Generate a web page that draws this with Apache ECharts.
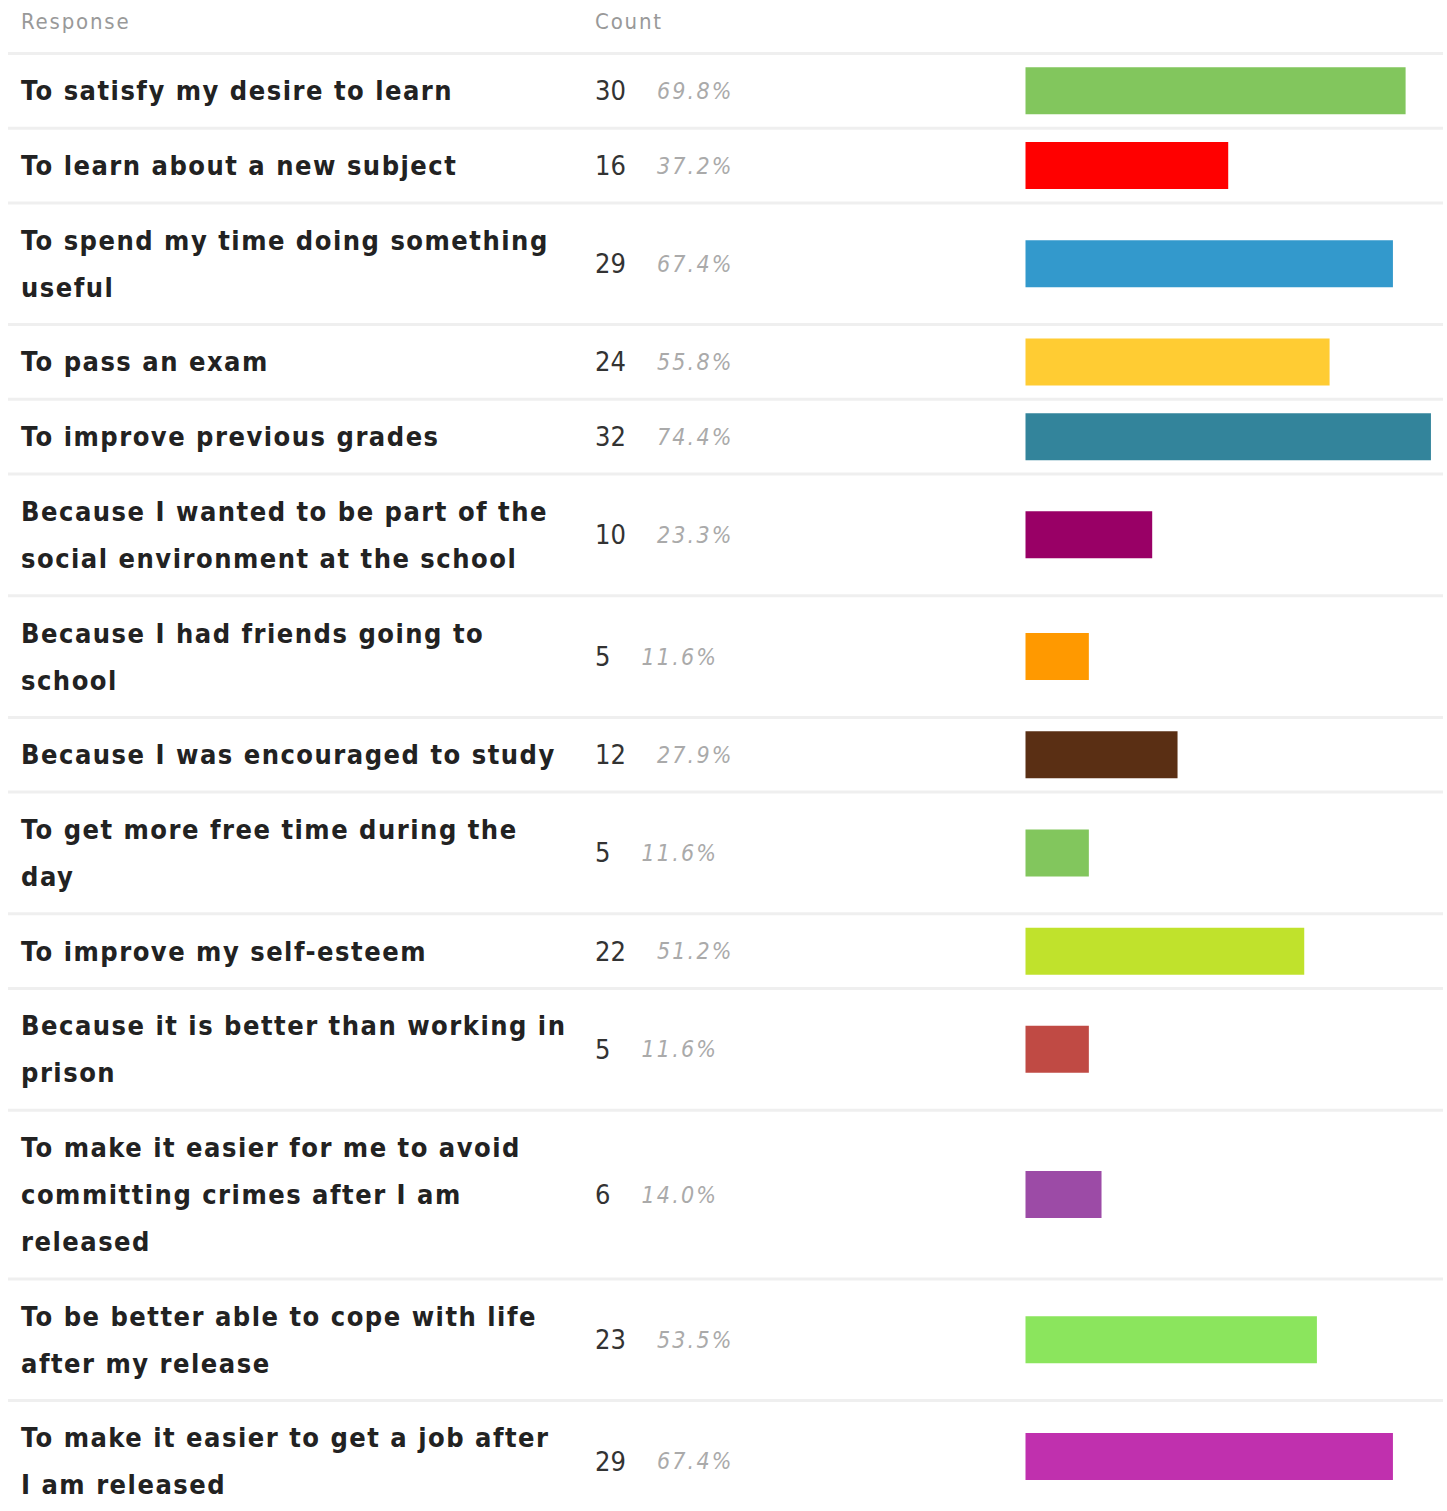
<!DOCTYPE html>
<html>
<head>
<meta charset="utf-8">
<title>Reasons for studying</title>
<script src="https://cdn.jsdelivr.net/npm/echarts@6/dist/echarts.min.js"></script>
<style>
html, body { margin: 0; padding: 0; background: #fff; }
#main { width: 1447px; height: 1511px; }
/* svg text spacing: labels, percent (italic), counts (27px regular) */
#main text { letter-spacing: 1.5px; }
#main text[style*="22px"] { letter-spacing: 1.8px; }
#main text[style*="italic"] { letter-spacing: 2.2px; }
#main text[style*=" 27px"]:not([style*="bold"]) { letter-spacing: 0; }
</style>
</head>
<body>
<div id="main"></div>
<script>
// survey answers (line breaks as they wrap in the table)
const responses = [
  "To satisfy my desire to learn",
  "To learn about a new subject",
  "To spend my time doing something\nuseful",
  "To pass an exam",
  "To improve previous grades",
  "Because I wanted to be part of the\nsocial environment at the school",
  "Because I had friends going to\nschool",
  "Because I was encouraged to study",
  "To get more free time during the\nday",
  "To improve my self-esteem",
  "Because it is better than working in\nprison",
  "To make it easier for me to avoid\ncommitting crimes after I am\nreleased",
  "To be better able to cope with life\nafter my release",
  "To make it easier to get a job after\nI am released"
];
const counts = [30, 16, 29, 24, 32, 10, 5, 12, 5, 22, 5, 6, 23, 29];
const totalRespondents = 43;
const barColors = [
  "#82c65d", "#ff0000", "#3399cc", "#ffcc33", "#33849b", "#990066", "#ff9900",
  "#5a2f14", "#82c65d", "#c0e22c", "#c04a44", "#9c4ba6", "#8be55d", "#c030ae"
];
const headers = ["Response", "Count"];

const FONT = "'DejaVu Sans Condensed', 'DejaVu Sans', sans-serif";
const LINE_H = 47;
const ROW_PAD = 27.7;
const SEP = 3;
const TABLE_TOP = 52;
const BAR_LEFT = 1025.5;
const BAR_SCALE = 12.67; // px per respondent

const chart = echarts.init(document.getElementById("main"), null, { renderer: "svg" });

const grids = [], xAxes = [], yAxes = [], series = [], graphics = [];
const maxCount = Math.max(...counts);

// header
[21, 595].forEach(function (x, k) {
  graphics.push({
    type: "text", x: x, y: 21,
    style: { text: headers[k], font: "22px " + FONT, fill: "#999", textVerticalAlign: "middle" }
  });
});

function separator(y) {
  return {
    type: "rect", silent: true,
    shape: { x: 8, y: y, width: 1435, height: SEP },
    style: { fill: "#efefef" }
  };
}

let y = TABLE_TOP;
graphics.push(separator(y));
responses.forEach(function (label, i) {
  const lines = label.split("\n").length;
  const pitch = ROW_PAD + LINE_H * lines;
  const top = y + SEP;
  const h = pitch - SEP;
  const mid = top + h / 2;

  graphics.push({
    type: "text", x: 21, y: mid,
    style: {
      text: label, font: "bold 27px " + FONT, fill: "#222",
      lineHeight: LINE_H, textVerticalAlign: "middle"
    }
  });
  const pct = (counts[i] / totalRespondents * 100).toFixed(1) + "%";
  graphics.push({
    type: "text", x: 595, y: mid,
    style: {
      text: "{c|" + counts[i] + "}{p|" + pct + "}",
      textVerticalAlign: "middle",
      rich: {
        c: { font: "27px " + FONT, fill: "#333", lineHeight: 30 },
        p: { font: "italic 23px " + FONT, fill: "#aaa", lineHeight: 30, padding: [0, 0, 0, 31] }
      }
    }
  });

  grids.push({ left: BAR_LEFT, top: top, height: h, width: maxCount * BAR_SCALE });
  xAxes.push({ gridIndex: i, type: "value", min: 0, max: maxCount, show: false });
  yAxes.push({ gridIndex: i, type: "category", data: [label], show: false });
  series.push({
    type: "bar", name: label, xAxisIndex: i, yAxisIndex: i,
    barWidth: 47, silent: true,
    itemStyle: { color: barColors[i] },
    data: [counts[i]]
  });

  y += pitch;
  if (i < responses.length - 1) graphics.push(separator(y));
});

chart.setOption({
  animation: false,
  grid: grids,
  xAxis: xAxes,
  yAxis: yAxes,
  series: series,
  graphic: graphics
});
</script>
</body>
</html>
